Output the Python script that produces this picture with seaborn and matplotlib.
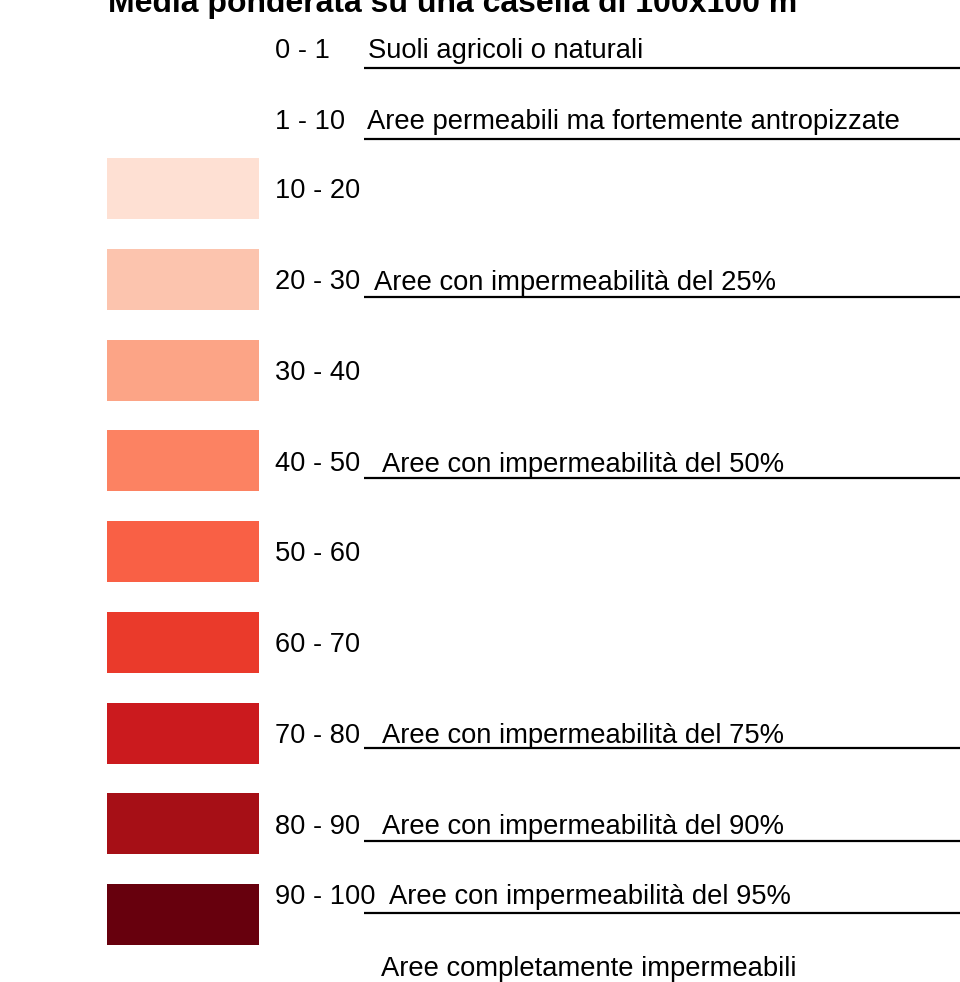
import matplotlib
matplotlib.use("Agg")
import matplotlib.pyplot as plt
import seaborn as sns

# legend classes (impermeability %, weighted on 100x100 m cells)
title = "Media ponderata su una casella di 100x100 m"
class_labels = ["0 - 1", "1 - 10", "10 - 20", "20 - 30", "30 - 40", "40 - 50",
                "50 - 60", "60 - 70", "70 - 80", "80 - 90", "90 - 100"]
swatch_labels = class_labels[2:]
swatch_colors = ["#fee0d3", "#fcc4ae", "#fca486", "#fc8262", "#f96045",
                 "#ea3a2b", "#cb1a1e", "#a60f16", "#67000d"]

# descriptive notes
notes = ["Suoli agricoli o naturali",
         "Aree permeabili ma fortemente antropizzate",
         "Aree con impermeabilità del 25%",
         "Aree con impermeabilità del 50%",
         "Aree con impermeabilità del 75%",
         "Aree con impermeabilità del 90%",
         "Aree con impermeabilità del 95%",
         "Aree completamente impermeabili"]

# layout (pixels)
row_y = [48.5, 119] + [188.5 + 90.75 * i for i in range(9)]
label_shift = [0] * 10 + [-20]
note_x = [368, 367, 374, 382, 382, 382, 389, 381]
note_y = [48.5, 119, 280, 462, 733, 824, 894, 966]
rule_y = [67.5, 138.5, 296.5, 477.5, 747.5, 840.5, 912.5]

sns.set_theme(style="white")
plt.rcParams['font.family'] = ['Liberation Sans', 'DejaVu Sans']

fig = plt.figure(figsize=(9.6, 9.82), dpi=100)
ax = fig.add_axes([0, 0, 1, 1])
ax.set_xlim(0, 960)
ax.set_ylim(982, 0)
ax.axis('off')

# colour swatches
ax.barh(y=row_y[2:], width=152, left=107, height=61, color=swatch_colors, linewidth=0)

# class labels
for lab, y, s in zip(class_labels, row_y, label_shift):
    ax.text(275, y + s + 9.8, lab, fontsize=19.6, va='baseline', ha='left', color='black')

# notes and rules
for txt, x, y in zip(notes, note_x, note_y):
    ax.text(x, y + 9.8, txt, fontsize=19.7, va='baseline', ha='left', color='black')
ax.hlines(rule_y, 364, 960, colors='black', lw=1.6)

ax.text(108, 12, title, fontsize=23, fontweight='bold', va='baseline', ha='left',
        color='black')

fig.savefig("out.png", dpi=100)
